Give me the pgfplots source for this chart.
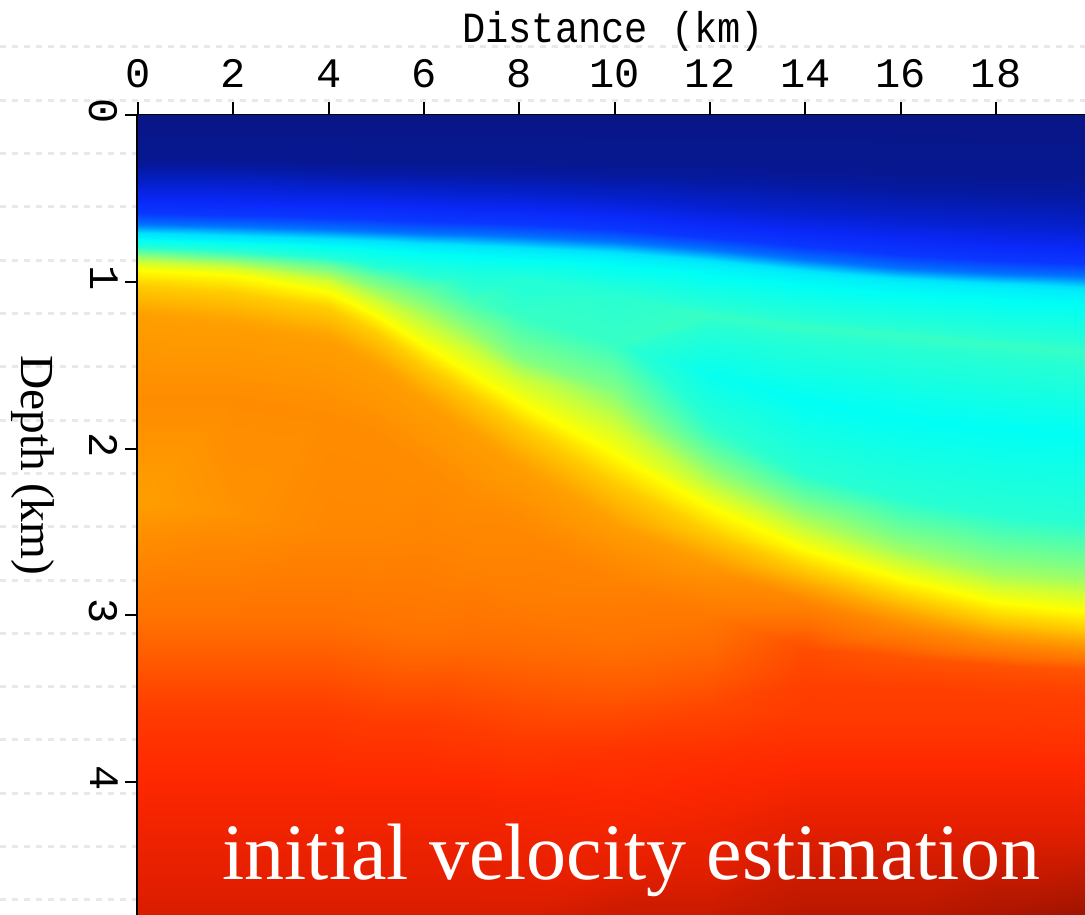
\documentclass[border=0pt]{standalone}
\usepackage{fontspec}
\setmainfont{Liberation Serif}
\newfontfamily\monofont{Liberation Mono}
\newfontfamily\monotitle[FakeStretch=0.9]{Liberation Mono}
\usepackage{pgfplots}
\pgfplotsset{compat=1.18}
\pgfplotsset{
  colormap={vel}{
    rgb255(0pt)=(8,22,135)
    rgb255(8pt)=(5,25,160)
    rgb255(16pt)=(5,32,205)
    rgb255(24pt)=(10,40,248)
    rgb255(28pt)=(10,55,255)
    rgb255(32pt)=(0,125,255)
    rgb255(36pt)=(0,225,255)
    rgb255(40pt)=(0,255,245)
    rgb255(46pt)=(40,255,210)
    rgb255(52pt)=(130,255,130)
    rgb255(56pt)=(200,255,60)
    rgb255(60pt)=(255,255,0)
    rgb255(65pt)=(255,205,0)
    rgb255(70pt)=(255,165,0)
    rgb255(74pt)=(255,140,0)
    rgb255(80pt)=(255,110,0)
    rgb255(86pt)=(255,70,0)
    rgb255(91pt)=(255,40,0)
    rgb255(95pt)=(225,30,0)
    rgb255(100pt)=(150,18,0)
  }
}
\begin{document}
\begin{tikzpicture}
\foreach \k in {0,...,16} {
  \pgfmathsetmacro{\yy}{-(47+53.3*\k-115)*0.5}
  \draw[black!9, line width=1.5pt, dash pattern=on 3pt off 3pt] (-69pt,\yy pt) -- (473.5pt,\yy pt);
}
\begin{axis}[
  at={(0pt,0pt)}, anchor=north west,
  x=23.835pt, y=83.4pt, y dir=reverse,
  xmin=0, xmax=20, ymin=0, ymax=4.85,
  axis line style={line width=1.5pt, black},
  xtick={0,2,...,18}, ytick={0,1,2,3,4},
  xtick pos=right, xticklabel pos=right,
  ytick pos=left, yticklabel pos=left,
  tick align=outside, major tick length=6.5pt,
  tick style={black, line width=1pt},
  /pgf/number format/assume math mode=true,
  xticklabel style={font=\monofont\fontsize{21}{21}\selectfont, yshift=3.5pt},
  yticklabel style={font=\monofont\fontsize{21}{21}\selectfont, rotate=-90, xshift=-2pt},
  colormap name=vel, point meta min=0, point meta max=100,
  clip=false,
]
\addplot[surf, shader=interp, mesh/cols=13, point meta=explicit] table[x index=0, y index=1, meta index=2] {
0 0 0
2 0 0
4 0 0
5 0 0
6 0 0
7 0 0
8 0 0
10 0 0
12 0 0
14 0 0
16 0 0
18 0 0
20 0 0
0 0.25 3
2 0.25 3
4 0.27 3
5 0.28 3
6 0.28 3
7 0.28 3
8 0.28 3
10 0.3 3
12 0.3 3
14 0.32 3
16 0.34 3
18 0.36 3
20 0.38 3
0 0.41 16
2 0.41 16
4 0.43 16
5 0.44 16
6 0.45 16
7 0.46 16
8 0.47 16
10 0.5 16
12 0.54 16
14 0.58 16
16 0.62 16
18 0.65 16
20 0.67 16
0 0.53 25
2 0.54 25
4 0.55 25
5 0.56 25
6 0.57 25
7 0.58 25
8 0.59 25
10 0.62 25
12 0.67 25
14 0.72 25
16 0.76 25
18 0.8 25
20 0.82 25
0 0.65 31
2 0.66 31
4 0.68 31
5 0.69 31
6 0.7 31
7 0.71 31
8 0.72 31
10 0.75 31
12 0.8 31
14 0.86 31
16 0.91 31
18 0.94 31
20 0.96 31
0 0.73 38
2 0.75 38
4 0.77 38
5 0.78 38
6 0.8 38
7 0.81 38
8 0.82 38
10 0.85 38
12 0.9 38
14 0.96 38
16 1.01 38
18 1.04 38
20 1.07 38
0 0.78 44
2 0.8 44
4 0.84 44
5 0.88 44
6 0.92 44
7 0.95 44
8 0.98 45
10 1.08 46
12 1.2 47
14 1.27 47
16 1.32 47
18 1.37 47
20 1.42 47
0 0.82 50
2 0.85 50
4 0.9 50
5 0.97 50
6 1.05 50
7 1.12 48
8 1.2 47
10 1.38 47
12 1.55 41
14 1.72 40
16 1.82 40
18 1.88 40
20 1.92 40
0 0.86 54
2 0.89 54
4 0.96 54
5 1.06 54
6 1.18 54
7 1.3 53
8 1.45 52
10 1.65 52
12 1.9 47
14 2.15 46
16 2.3 46
18 2.4 46
20 2.45 46
0 0.89 57
2 0.92 57
4 1.0 57
5 1.13 57
6 1.28 57
7 1.43 57
8 1.6 57
10 1.88 57
12 2.2 55
14 2.45 55
16 2.62 54
18 2.75 54
20 2.8 54
0 0.93 60
2 0.96 60
4 1.06 60
5 1.2 60
6 1.38 60
7 1.55 60
8 1.72 60
10 2.03 60
12 2.35 60
14 2.6 60
16 2.78 60
18 2.92 60
20 2.98 60
0 1.02 65
2 1.06 65
4 1.16 65
5 1.3 65
6 1.5 65
7 1.68 65
8 1.86 65
10 2.2 65
12 2.5 65
14 2.74 66
16 2.91 66
18 3.04 66
20 3.1 66
0 1.2 71
2 1.25 71
4 1.35 71
5 1.5 71
6 1.7 71
7 1.9 71
8 2.1 71
10 2.45 71
12 2.7 72
14 2.93 76
16 3.07 75
18 3.17 75
20 3.22 75
0 1.7 74
2 1.7 74
4 1.8 74
5 1.9 74
6 2.1 74
7 2.3 74
8 2.5 75
10 2.8 76
12 3.0 78
14 3.2 85
16 3.25 84
18 3.3 84
20 3.33 84
0 2.3 71
2 2.4 73
4 2.5 75
5 2.5 75
6 2.6 76
7 2.7 76
8 2.9 77
10 3.15 79
12 3.3 82
14 3.4 87
16 3.42 87
18 3.45 87
20 3.47 87
0 3.0 79
2 3.0 79
4 3.0 79
5 3.05 79
6 3.1 79
7 3.15 80
8 3.25 81
10 3.45 83
12 3.55 86
14 3.6 88
16 3.6 88
18 3.6 88
20 3.62 88
0 3.6 88
2 3.6 88
4 3.6 88
5 3.65 88
6 3.65 88
7 3.7 88
8 3.75 88
10 3.8 89
12 3.85 90
14 3.9 91
16 3.9 91
18 3.9 91
20 3.9 91
0 4.1 92
2 4.1 92
4 4.1 92
5 4.1 92
6 4.1 92
7 4.1 92
8 4.15 92
10 4.2 92
12 4.25 93
14 4.3 95
16 4.3 95
18 4.3 95
20 4.3 95
0 4.85 96
2 4.85 96
4 4.85 96
5 4.85 96
6 4.85 96
7 4.85 96
8 4.85 96
10 4.85 97
12 4.85 97
14 4.85 98
16 4.85 98
18 4.85 99
20 4.85 100
};
\node[anchor=base west, inner sep=0pt, text=white, font=\fontsize{40}{48}\selectfont] at (axis cs:1.762,4.586) {initial velocity estimation};
\node[rotate=-90, font=\fontsize{23.7}{28}\selectfont] at (axis cs:-2.2,2.1) {Depth (km)};
\node[anchor=base, font=\monotitle\fontsize{21.5}{24}\selectfont] at (axis cs:9.97,-0.432) {Distance (km)};
\end{axis}
\pgfresetboundingbox
\path[use as bounding box] (-69pt,-399.5pt) rectangle (473.5pt,57.5pt);
\end{tikzpicture}
\end{document}
